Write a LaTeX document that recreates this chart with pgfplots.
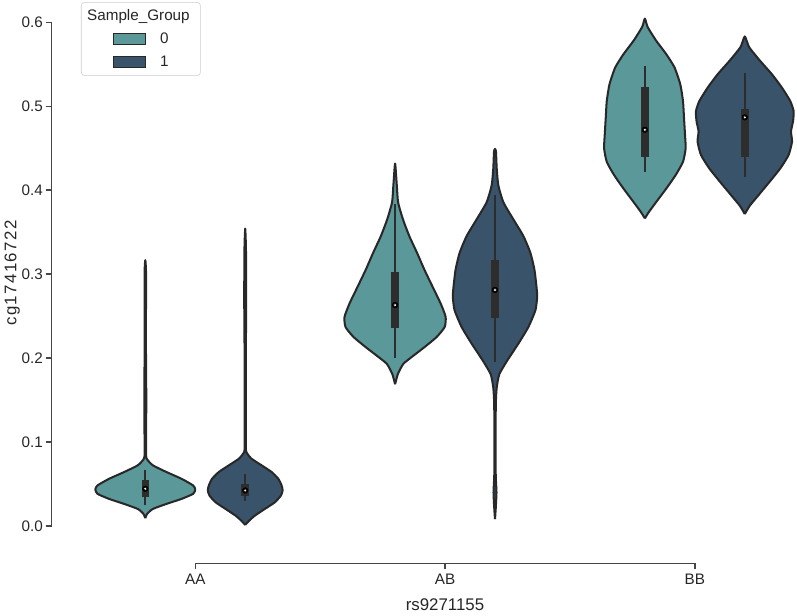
\documentclass[border=0pt]{standalone}
\usepackage{pgfplots}
\pgfplotsset{compat=1.18}
\usepackage{pgfplotstable}
\usepackage{fontspec}
\setmainfont{Liberation Sans}
\definecolor{grpA}{RGB}{91,152,153}
\definecolor{grpB}{RGB}{57,83,106}
\definecolor{edge}{RGB}{40,40,40}
\definecolor{spinec}{RGB}{70,70,70}
\definecolor{txt}{RGB}{38,38,38}
\definecolor{boxc}{RGB}{45,45,45}
\newcommand{\fs}{\fontsize{11.3}{13.6}\selectfont}
\newcommand{\fl}{\fontsize{12.5}{15}\selectfont}

% violin contours: y, signed half width (right side up, left side down)
\pgfplotstableread{
y w
0.0092 0
0.0141 0.0069
0.0201 0.0296
0.0261 0.0838
0.0321 0.1445
0.0382 0.1915
0.0434 0.2000
0.0482 0.1915
0.0562 0.1445
0.0643 0.0838
0.0723 0.0296
0.0803 0.0053
0.0900 0.0028
0.1500 0.0040
0.2200 0.0025
0.3000 0.0030
0.3165 0
0.3000 -0.0030
0.2200 -0.0025
0.1500 -0.0040
0.0900 -0.0028
0.0803 -0.0053
0.0723 -0.0296
0.0643 -0.0838
0.0562 -0.1445
0.0482 -0.1915
0.0434 -0.2000
0.0382 -0.1915
0.0321 -0.1445
0.0261 -0.0838
0.0201 -0.0296
0.0141 -0.0069
0.0092 0
}\vAAa
\pgfplotstableread{
y w
0.0012 0
0.0060 0.0150
0.0120 0.0377
0.0201 0.0781
0.0281 0.1186
0.0361 0.1429
0.0422 0.1498
0.0482 0.1457
0.0562 0.1324
0.0643 0.1053
0.0723 0.0648
0.0803 0.0243
0.0884 0.0040
0.1000 0.0028
0.2000 0.0025
0.2700 0.0040
0.3300 0.0030
0.3542 0
0.3300 -0.0030
0.2700 -0.0040
0.2000 -0.0025
0.1000 -0.0028
0.0884 -0.0040
0.0803 -0.0243
0.0723 -0.0648
0.0643 -0.1053
0.0562 -0.1324
0.0482 -0.1457
0.0422 -0.1498
0.0361 -0.1429
0.0281 -0.1186
0.0201 -0.0781
0.0120 -0.0377
0.0060 -0.0150
0.0012 0
}\vAAb
\pgfplotstableread{
y w
0.1687 0
0.1807 0.0109
0.1928 0.0324
0.2008 0.0648
0.2129 0.1174
0.2249 0.1660
0.2369 0.1984
0.2490 0.2024
0.2651 0.1822
0.2851 0.1498
0.3052 0.1174
0.3253 0.0879
0.3454 0.0567
0.3655 0.0312
0.3855 0.0121
0.4056 0.0069
0.4317 0
0.4056 -0.0069
0.3855 -0.0121
0.3655 -0.0312
0.3454 -0.0567
0.3253 -0.0879
0.3052 -0.1174
0.2851 -0.1498
0.2651 -0.1822
0.2490 -0.2024
0.2369 -0.1984
0.2249 -0.1660
0.2129 -0.1174
0.2008 -0.0648
0.1928 -0.0324
0.1807 -0.0109
0.1687 0
}\vABa
\pgfplotstableread{
y w
0.0080 0
0.0200 0.0028
0.0400 0.0060
0.0600 0.0030
0.1000 0.0026
0.1446 0.0032
0.1647 0.0069
0.1807 0.0174
0.1968 0.0486
0.2169 0.0931
0.2369 0.1336
0.2570 0.1619
0.2731 0.1688
0.2851 0.1660
0.3052 0.1579
0.3253 0.1417
0.3454 0.1134
0.3655 0.0729
0.3855 0.0336
0.4056 0.0134
0.4257 0.0069
0.4458 0.0040
0.4490 0
0.4458 -0.0040
0.4257 -0.0069
0.4056 -0.0134
0.3855 -0.0336
0.3655 -0.0729
0.3454 -0.1134
0.3253 -0.1417
0.3052 -0.1579
0.2851 -0.1660
0.2731 -0.1688
0.2570 -0.1619
0.2369 -0.1336
0.2169 -0.0931
0.1968 -0.0486
0.1807 -0.0174
0.1647 -0.0069
0.1446 -0.0032
0.1000 -0.0026
0.0600 -0.0030
0.0400 -0.0060
0.0200 -0.0028
0.0080 0
}\vABb
\pgfplotstableread{
y w
0.3663 0
0.3735 0.0150
0.3855 0.0445
0.4016 0.0850
0.4177 0.1227
0.4337 0.1526
0.4498 0.1632
0.4659 0.1607
0.4859 0.1567
0.5060 0.1526
0.5261 0.1417
0.5462 0.1186
0.5622 0.0850
0.5783 0.0445
0.5944 0.0109
0.6044 0
0.5944 -0.0109
0.5783 -0.0445
0.5622 -0.0850
0.5462 -0.1186
0.5261 -0.1417
0.5060 -0.1526
0.4859 -0.1567
0.4659 -0.1607
0.4498 -0.1632
0.4337 -0.1526
0.4177 -0.1227
0.4016 -0.0850
0.3855 -0.0445
0.3735 -0.0150
0.3663 0
}\vBBa
\pgfplotstableread{
y w
0.3715 0
0.3815 0.0202
0.3936 0.0538
0.4096 0.0984
0.4257 0.1417
0.4418 0.1753
0.4578 0.1891
0.4699 0.1850
0.4819 0.1931
0.4940 0.1955
0.5060 0.1822
0.5221 0.1486
0.5382 0.1081
0.5542 0.0607
0.5703 0.0174
0.5831 0
0.5703 -0.0174
0.5542 -0.0607
0.5382 -0.1081
0.5221 -0.1486
0.5060 -0.1822
0.4940 -0.1955
0.4819 -0.1931
0.4699 -0.1850
0.4578 -0.1891
0.4418 -0.1753
0.4257 -0.1417
0.4096 -0.0984
0.3936 -0.0538
0.3815 -0.0202
0.3715 0
}\vBBb
% inner box statistics
\pgfplotstableread{
x wlo whi qlo qhi med
-0.2 0.0249 0.0663 0.0341 0.0542 0.0442
0.2 0.0301 0.0622 0.0361 0.0502 0.0422
0.8 0.2000 0.3835 0.2360 0.3030 0.2630
1.2 0.1948 0.3936 0.2482 0.3165 0.2811
1.8 0.4217 0.5482 0.4398 0.5229 0.4719
2.2 0.4157 0.5390 0.4398 0.4972 0.4867
}\boxes

\begin{document}
\begin{tikzpicture}
\begin{axis}[
  scale only axis, width=552.75pt, height=417.75pt,
  xmin=-0.575, xmax=2.409, ymin=-0.04458, ymax=0.6265,
  axis lines*=left, axis line style={draw=none},
  clip=false,
  xtick={0,1,2}, xticklabels={AA,AB,BB},
  ytick={0,0.1,0.2,0.3,0.4,0.5,0.6},
  yticklabels={0.0,0.1,0.2,0.3,0.4,0.5,0.6},
  tick align=outside, major tick length=4.5pt,
  tick style={spinec, line width=1pt},
  ticklabel style={font=\fs, color=txt},
  yticklabel style={xshift=1.5pt},
  xlabel={rs9271155}, ylabel={cg17416722},
  every axis x label/.style={at={(axis description cs:0.5278,-0.0736)}, anchor=center, font=\fl, color=txt},
  every axis y label/.style={at={(axis description cs:-0.0530,0.5153)}, rotate=90, anchor=center, font=\fl\addfontfeatures{LetterSpace=8}, color=txt},
  violin/.style={draw=edge, line width=1.5pt, line join=round, smooth, tension=0.35, forget plot},
  legend style={at={(axis description cs:0.0394,0.9964)}, anchor=north west,
    draw={rgb,255:red,204;green,204;blue,204}, rounded corners=2.5pt, fill=white,
    font=\fs, text=txt, inner xsep=3pt, inner ysep=3.5pt, row sep=3.5pt,
    cells={anchor=west}, nodes={inner sep=2pt}},
  legend image code/.code={\path (0pt,0pt) (53pt,0pt); \draw[#1, sharp corners, line width=0.6pt] (20.5pt,-4pt) rectangle (44.5pt,4pt);},
]
\addlegendimage{empty legend}
\addlegendentry{\hspace*{-54pt}Sample\_Group\hspace*{3pt}}
\addlegendimage{fill=grpA, draw=edge}
\addlegendentry{0}
\addlegendimage{fill=grpB, draw=edge}
\addlegendentry{1}

% trimmed spines
\addplot[spinec, line width=1pt, forget plot] coordinates {(-0.575,0) (-0.575,0.6)};
\addplot[spinec, line width=1pt, forget plot] coordinates {(0,-0.04458) (2,-0.04458)};

% violins
\addplot[violin, fill=grpA] table[x expr=-0.2+\thisrow{w}, y=y] {\vAAa};
\addplot[violin, fill=grpB] table[x expr=0.2+\thisrow{w}, y=y] {\vAAb};
\addplot[violin, fill=grpA] table[x expr=0.8+\thisrow{w}, y=y] {\vABa};
\addplot[violin, fill=grpB] table[x expr=1.2+\thisrow{w}, y=y] {\vABb};
\addplot[violin, fill=grpA] table[x expr=1.8+\thisrow{w}, y=y] {\vBBa};
\addplot[violin, fill=grpB] table[x expr=2.2+\thisrow{w}, y=y] {\vBBb};

% whiskers
\addplot[only marks, mark=none, forget plot,
  error bars/.cd, y dir=both, y explicit, error mark=none,
  error bar style={line width=1.6pt, color=boxc}]
  table[x=x, y=med, y error plus expr=\thisrow{whi}-\thisrow{med}, y error minus expr=\thisrow{med}-\thisrow{wlo}] {\boxes};
% boxes
\addplot[only marks, mark=none, forget plot,
  error bars/.cd, y dir=both, y explicit, error mark=none,
  error bar style={line width=5.6pt, color=boxc}]
  table[x=x, y=med, y error plus expr=\thisrow{qhi}-\thisrow{med}, y error minus expr=\thisrow{med}-\thisrow{qlo}] {\boxes};
% medians
\addplot[only marks, mark=*, mark size=1.3pt, mark options={fill=white, draw=none}, forget plot]
  table[x=x, y=med] {\boxes};
\end{axis}
\end{tikzpicture}
\end{document}
